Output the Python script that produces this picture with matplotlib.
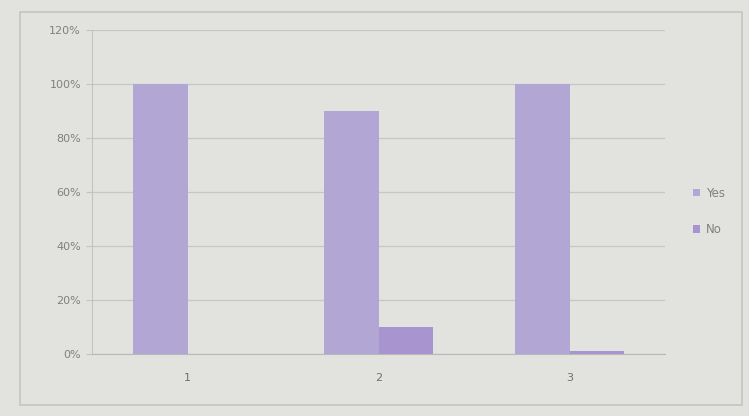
import matplotlib.pyplot as plt
from matplotlib.patches import Rectangle
from matplotlib.ticker import PercentFormatter
import numpy as np

categories = ['1', '2', '3']
yes_values = [100, 90, 100]
no_values = [0, 10, 1]
series_names = ['Yes', 'No']

bg = '#e2e2de'
fig = plt.figure(figsize=(7.49, 4.16), dpi=100, facecolor=bg)
ax = fig.add_axes([0.123, 0.149, 0.765, 0.779], facecolor=bg)

# outer chart frame
fig.patches.append(Rectangle((0.027, 0.027), 0.963, 0.945, transform=fig.transFigure,
                             fill=False, edgecolor='#c4c4c4', linewidth=1.2))

x = np.arange(len(categories))
w = 0.285
ax.bar(x - w / 2, yes_values, w, color='#b2a6d4', label=series_names[0], zorder=3)
ax.bar(x + w / 2, no_values, w, color='#a895d0', label=series_names[1], zorder=3)

ax.set_xlim(-0.5, 2.5)
ax.set_ylim(0, 120)
ax.set_yticks(range(0, 121, 20))
ax.yaxis.set_major_formatter(PercentFormatter(decimals=0))
ax.set_xticks(x)
ax.set_xticklabels(categories)
ax.grid(axis='y', color='#c6c6c6', linewidth=0.9, zorder=0)

for s in ['top', 'right']:
    ax.spines[s].set_visible(False)
ax.spines['left'].set_color('#c2c2c2')
ax.spines['bottom'].set_color('#b8b8b8')
ax.tick_params(axis='y', length=4, color='#c2c2c2', labelsize=8, labelcolor='#808080', pad=4)
ax.tick_params(axis='x', length=0, labelsize=8, labelcolor='#707070', pad=14)

leg = ax.legend(loc='center left', bbox_to_anchor=(1.03, 0.44), frameon=False,
                fontsize=8.5, handlelength=0.6, handleheight=0.6, labelspacing=2.0,
                handletextpad=0.5)
for t in leg.get_texts():
    t.set_color('#808080')

fig.savefig('out.png', dpi=100, facecolor=bg)
